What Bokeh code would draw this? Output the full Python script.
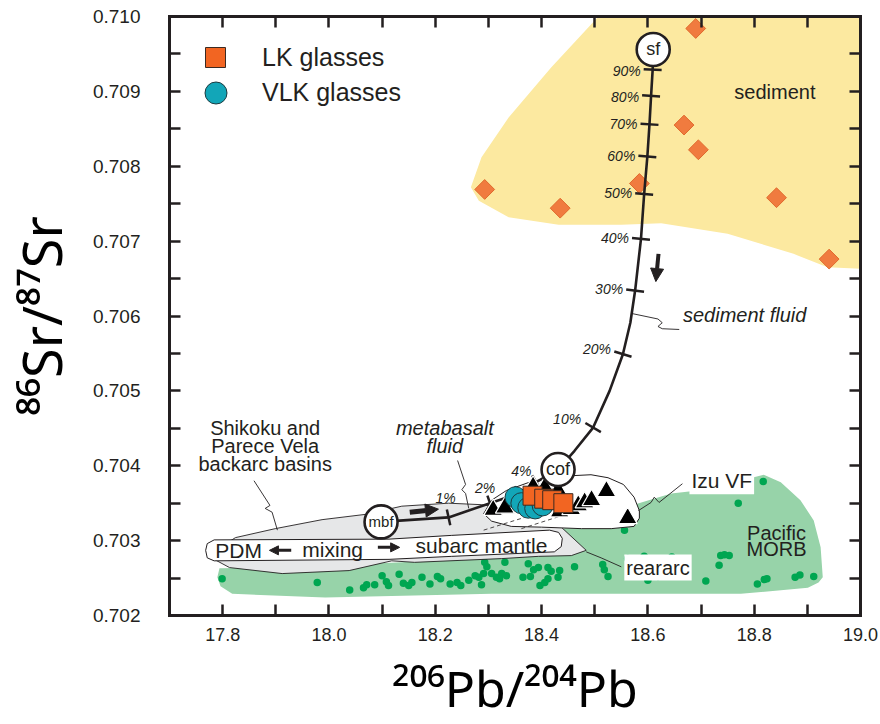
import numpy as np
from bokeh.plotting import figure
from bokeh.models import (FixedTicker, LinearAxis, Range1d, Label, Arrow, NormalHead,
                          Legend, LegendItem, NumeralTickFormatter, CustomJSTickFormatter)
from bokeh.core.properties import value
from bokeh.embed import file_html
from bokeh.resources import INLINE

# ---------------- axis ticks ----------------
x_major_ticks = [17.8, 18.0, 18.2, 18.4, 18.6, 18.8, 19.0]
x_minor_ticks = [17.9, 18.1, 18.3, 18.5, 18.7, 18.9]
y_major_ticks = [0.702, 0.703, 0.704, 0.705, 0.706, 0.707, 0.708, 0.709, 0.710]
y_minor_ticks = [0.7025, 0.7035, 0.7045, 0.7055, 0.7065, 0.7075, 0.7085, 0.7095]

# ---------------- fields (outlines) ----------------
sediment_field_x = [18.507, 18.418, 18.338, 18.287, 18.267, 18.282, 18.338, 18.432, 18.550,
                    18.625, 18.750, 18.874, 18.938, 19.0, 19.0]
sediment_field_y = [0.71000, 0.70932, 0.70865, 0.70812, 0.70772, 0.70754, 0.70732, 0.70722,
                    0.70722, 0.70724, 0.70710, 0.70683, 0.70665, 0.70663, 0.71000]

morb_field_x = [17.790, 17.794, 17.949, 18.137, 18.287, 18.400, 18.448, 18.550, 18.644, 18.694,
                18.762, 18.818, 18.850, 18.887, 18.912, 18.925, 18.929, 18.921, 18.901, 18.775,
                18.306, 17.993, 17.818, 17.796]
morb_field_y = [0.70251, 0.70263, 0.70265, 0.70271, 0.70279, 0.70304, 0.70318, 0.70343, 0.70363,
                0.70367, 0.70378, 0.70388, 0.70378, 0.70354, 0.70327, 0.70291, 0.70251, 0.70244,
                0.70237, 0.70229, 0.70229, 0.70224, 0.70229, 0.70239]

backarc_field_x = [17.771, 17.824, 17.899, 17.987, 18.068, 18.137, 18.225, 18.287, 18.362, 18.437,
                   18.484, 18.456, 18.394, 18.325, 18.161, 18.118, 18.038, 17.912, 17.813]
backarc_field_y = [0.70280, 0.70304, 0.70316, 0.70328, 0.70335, 0.70346, 0.70350, 0.70348, 0.70340,
                   0.70318, 0.70287, 0.70280, 0.70279, 0.70276, 0.70271, 0.70273, 0.70260, 0.70256,
                   0.70264]

mixing_field_x = [17.768, 17.771, 17.784, 18.113, 18.231, 18.415, 18.432, 18.439, 18.437, 18.424,
                  18.231, 18.113, 17.784, 17.771]
mixing_field_y = [0.70287, 0.70296, 0.70301, 0.70302, 0.70307, 0.70314, 0.70311, 0.70303, 0.70292,
                  0.70285, 0.70279, 0.70275, 0.70273, 0.70277]

izu_field_x = [18.291, 18.306, 18.334, 18.381, 18.437, 18.493, 18.525, 18.554, 18.574, 18.584,
               18.584, 18.574, 18.531, 18.475, 18.400, 18.343, 18.306]
izu_field_y = [0.70336, 0.70354, 0.70367, 0.70379, 0.70386, 0.70388, 0.70384, 0.70375, 0.70358,
               0.70340, 0.70330, 0.70319, 0.70316, 0.70316, 0.70318, 0.70319, 0.70326]

# hidden outline inside the Izu field (dashed)
hidden_x = [[18.291, 18.368], [18.362, 18.441]]
hidden_y = [[0.70314, 0.70331], [0.70316, 0.70334]]

# ---------------- samples ----------------
sediment_x = [18.293, 18.435, 18.584, 18.690, 18.668, 18.695, 18.842, 18.941]
sediment_y = [0.70769, 0.70744, 0.70777, 0.70984, 0.70855, 0.70822, 0.70758, 0.70676]

morb_x = [17.799, 17.978, 18.039, 18.065, 18.071, 18.086, 18.100, 18.108, 18.112, 18.132,
          18.140, 18.150, 18.156, 18.175, 18.190, 18.204, 18.210, 18.228, 18.241, 18.248,
          18.263, 18.275, 18.282, 18.293, 18.297, 18.287, 18.306, 18.315, 18.325, 18.321,
          18.334, 18.331, 18.365, 18.375, 18.385, 18.394, 18.397, 18.406, 18.412, 18.418,
          18.431, 18.434, 18.379, 18.412, 18.462, 18.515, 18.518, 18.525, 18.556, 18.562,
          18.575, 18.593, 18.600, 18.619, 18.625, 18.645, 18.709, 18.734, 18.737, 18.744,
          18.753, 18.770, 18.806, 18.819, 18.824, 18.817, 18.877, 18.886, 18.912, 18.291]
morb_y = [0.70249, 0.70244, 0.70234, 0.70237, 0.70241, 0.70241, 0.70253, 0.70245, 0.70240, 0.70255,
          0.70243, 0.70240, 0.70244, 0.70251, 0.70242, 0.70252, 0.70249, 0.70242, 0.70244, 0.70240,
          0.70247, 0.70253, 0.70251, 0.70271, 0.70265, 0.70241, 0.70256, 0.70251, 0.70256, 0.70249,
          0.70253, 0.70271, 0.70251, 0.70269, 0.70261, 0.70264, 0.70240, 0.70244, 0.70264, 0.70259,
          0.70251, 0.70260, 0.70252, 0.70249, 0.70265, 0.70268, 0.70261, 0.70252, 0.70314, 0.70276,
          0.70253, 0.70279, 0.70247, 0.70252, 0.70269, 0.70278, 0.70246, 0.70267, 0.70280, 0.70281,
          0.70280, 0.70350, 0.70242, 0.70248, 0.70249, 0.70379, 0.70251, 0.70254, 0.70252, 0.70256]

izu_x = [18.309, 18.331, 18.384, 18.406, 18.431, 18.434, 18.456, 18.469, 18.481, 18.494, 18.522, 18.562]
izu_y = [0.70341, 0.70344, 0.70372, 0.70371, 0.70367, 0.70339, 0.70342, 0.70347, 0.70351, 0.70354,
         0.70366, 0.70330]

vlk_x = [18.351, 18.362, 18.375, 18.388, 18.402]
vlk_y = [0.70358, 0.70350, 0.70344, 0.70343, 0.70347]

lk_x = [18.383, 18.405, 18.420, 18.441]
lk_y = [0.70360, 0.70356, 0.70354, 0.70350]

# ---------------- mixing models ----------------
sed_fluid_x = [18.610, 18.609, 18.606, 18.603, 18.599, 18.593, 18.587, 18.576, 18.567, 18.553,
               18.528, 18.497, 18.462, 18.431]
sed_fluid_y = [0.70956, 0.70929, 0.70894, 0.70856, 0.70813, 0.70763, 0.70703, 0.70634, 0.70591,
               0.70549, 0.70500, 0.70451, 0.70420, 0.70395]
sed_tick_x = [18.609, 18.606, 18.603, 18.599, 18.593, 18.587, 18.576, 18.553, 18.497]
sed_tick_y = [0.70929, 0.70894, 0.70856, 0.70813, 0.70763, 0.70703, 0.70634, 0.70549, 0.70451]
sed_tick_labels = ["90%", "80%", "70%", "60%", "50%", "40%", "30%", "20%", "10%"]

mb_fluid_x = [18.098, 18.161, 18.225, 18.303, 18.356, 18.390, 18.431]
mb_fluid_y = [0.70325, 0.70328, 0.70331, 0.70350, 0.70363, 0.70378, 0.70395]
mb_tick_x = [18.225, 18.303, 18.356, 18.390]
mb_tick_y = [0.70331, 0.70350, 0.70363, 0.70378]
mb_tick_labels = ["1%", "2%", "4%"]
mb_label_x = [18.225, 18.303, 18.390]
mb_label_y = [0.70331, 0.70350, 0.70378]

endmember_x = [18.610, 18.431, 18.098]
endmember_y = [0.70956, 0.70395, 0.70325]
endmember_labels = ["sf", "cof", "mbf"]

# ---------------- leader lines ----------------
leader_x = [[18.572, 18.619, 18.627, 18.619, 18.627, 18.659],
            [18.242, 18.257, 18.250, 18.257, 18.263],
            [17.859, 17.889, 17.880, 17.893, 17.903],
            [18.665, 18.621, 18.612, 18.606, 18.582],
            [18.484, 18.512, 18.550]]
leader_y = [[0.70603, 0.70596, 0.70591, 0.70586, 0.70583, 0.70582],
            [0.70407, 0.70375, 0.70368, 0.70363, 0.70343],
            [0.70380, 0.70347, 0.70343, 0.70338, 0.70314],
            [0.70376, 0.70351, 0.70358, 0.70351, 0.70340],
            [0.70285, 0.70277, 0.70265]]

# ---------------- figure ----------------
INK = "#231F20"
FONT = "Liberation Sans"
TITLE_FONT = "Noto Sans"
W, H = 880, 724
BL, BR, BT, BB = 167, 20, 16, 109
X0, X1 = 17.7, 19.0
Y0, Y1 = 0.702, 0.710

p = figure(width=W, height=H, x_range=Range1d(X0, X1), y_range=Range1d(Y0, Y1),
           output_backend="svg", toolbar_location=None,
           min_border_left=BL, min_border_right=BR, min_border_top=BT, min_border_bottom=BB,
           outline_line_color=None, background_fill_color="white", border_fill_color="white")
p.xgrid.visible = False
p.ygrid.visible = False

bottom_axis = p.below[0]
left_axis = p.left[0]
bottom_axis.ticker = FixedTicker(ticks=x_major_ticks, minor_ticks=x_minor_ticks)
left_axis.ticker = FixedTicker(ticks=y_major_ticks, minor_ticks=y_minor_ticks)
bottom_axis.formatter = NumeralTickFormatter(format="0.0")
left_axis.formatter = NumeralTickFormatter(format="0.000")
blank = CustomJSTickFormatter(code="return ''")
top_axis = LinearAxis(ticker=FixedTicker(ticks=x_major_ticks, minor_ticks=x_minor_ticks),
                      formatter=blank, major_label_text_font_size="1px", major_label_standoff=0)
right_axis = LinearAxis(ticker=FixedTicker(ticks=y_major_ticks, minor_ticks=y_minor_ticks),
                        formatter=blank, major_label_text_font_size="1px", major_label_standoff=0)
p.add_layout(top_axis, "above")
p.add_layout(right_axis, "right")
for ax in [bottom_axis, left_axis, top_axis, right_axis]:
    ax.axis_line_width = 3
    ax.axis_line_color = INK
    ax.axis_line_cap = "square"
    ax.major_tick_in = 11
    ax.major_tick_out = 0
    ax.minor_tick_in = 11
    ax.minor_tick_out = 0
    ax.major_tick_line_width = 2.5
    ax.minor_tick_line_width = 2.5
    ax.major_tick_line_color = INK
    ax.minor_tick_line_color = INK

left_axis.major_label_text_font = FONT
left_axis.major_label_text_font_size = "19px"
left_axis.major_label_text_color = INK
left_axis.major_label_standoff = 29
left_axis.axis_label = "⁸⁶Sr/⁸⁷Sr"
left_axis.axis_label_text_font = TITLE_FONT
left_axis.axis_label_text_font_size = "54px"
left_axis.axis_label_text_font_style = "normal"
left_axis.axis_label_text_color = "black"
left_axis.axis_label_standoff = 12

bottom_axis.major_label_text_font = FONT
bottom_axis.major_label_text_font_size = "18px"
bottom_axis.major_label_text_color = INK
bottom_axis.major_label_standoff = 12
bottom_axis.axis_label = "²⁰⁶Pb/²⁰⁴Pb"
bottom_axis.axis_label_text_font = TITLE_FONT
bottom_axis.axis_label_text_font_size = "50px"
bottom_axis.axis_label_text_font_style = "normal"
bottom_axis.axis_label_text_color = "black"
bottom_axis.axis_label_standoff = 10

# fields
p.patch(sediment_field_x, sediment_field_y, fill_color="#FCE9A0", line_color=None)
p.patch(morb_field_x, morb_field_y, fill_color="#97D3A9", line_color=None)
p.scatter(morb_x, morb_y, marker="circle", size=7.5, fill_color="#00A651", line_color=None)
p.patch(backarc_field_x, backarc_field_y, fill_color="#E6E7E8", line_color=INK, line_width=0.9)
p.patch(mixing_field_x, mixing_field_y, fill_color="white", line_color=INK, line_width=1)
p.patch(izu_field_x, izu_field_y, fill_color="white", line_color=INK, line_width=1)
p.multi_line(hidden_x, hidden_y, line_color=INK, line_width=0.8, line_dash="4 3")
p.multi_line(leader_x, leader_y, line_color=INK, line_width=0.9)

# sediment samples
p.scatter(sediment_x, sediment_y, marker="square", angle=np.pi / 4, size=14,
          fill_color="#F07B3F", line_color="#E0692C", line_width=1)


def txt(xs, ys, texts, size, style="normal", align="center", baseline="middle", font=FONT,
        xo=0, yo=0):
    p.text(x=xs, y=ys, text=texts, text_font=value(font), text_font_size=value(f"{size}px"),
           text_font_style=value(style), text_align=value(align), text_baseline=value(baseline),
           text_color=INK, x_offset=xo, y_offset=yo)


txt([18.839], [0.70899], ["sediment"], 20)
txt([18.666], [0.70601], ["sediment fluid"], 20, style="italic", align="left")
txt([18.218, 18.218], [0.70450, 0.70427], ["metabasalt", "fluid"], 20, style="italic")
txt([17.880, 17.880, 17.880], [0.70451, 0.70426, 0.70403],
    ["Shikoku and", "Parece Vela", "backarc basins"], 20)
txt([18.842, 18.842], [0.70310, 0.70289], ["Pacific", "MORB"], 20)
txt([17.830], [0.70287], ["PDM"], 21)
txt([18.007], [0.70288], ["mixing"], 21)
txt([18.287], [0.70293], ["subarc mantle"], 21)

# model curves
fw, fh = W - BL - BR, H - BT - BB
kx, ky = fw / (X1 - X0), fh / (Y1 - Y0)


def perp_angles(cx, cy, tx, ty):
    cx = np.asarray(cx)
    cy = np.asarray(cy)
    out = []
    for x, y in zip(tx, ty):
        i = int(np.argmin(((cx - x) * kx) ** 2 + ((cy - y) * ky) ** 2))
        j0, j1 = max(i - 1, 0), min(i + 1, len(cx) - 1)
        dx = (cx[j1] - cx[j0]) * kx
        dy = (cy[j1] - cy[j0]) * ky
        out.append(float(np.arctan2(dy, dx) + np.pi / 2))
    return out


p.line(sed_fluid_x, sed_fluid_y, line_color=INK, line_width=2.6)
p.line(mb_fluid_x, mb_fluid_y, line_color=INK, line_width=2.6)
p.scatter(sed_tick_x, sed_tick_y, marker="dash", size=18, line_width=2.5, line_color=INK,
          angle=perp_angles(sed_fluid_x, sed_fluid_y, sed_tick_x, sed_tick_y))
p.scatter(mb_tick_x, mb_tick_y, marker="dash", size=16, line_width=2.5, line_color=INK,
          angle=perp_angles(mb_fluid_x, mb_fluid_y, mb_tick_x, mb_tick_y))
txt(sed_tick_x, sed_tick_y, sed_tick_labels, 14, style="italic", align="right",
    xo=-12, yo=[1, 1, 0, -1, -1, -1, -2, -5, -9])
txt(mb_label_x, mb_label_y, mb_tick_labels, 14, style="italic", xo=[-3, -5, -15],
    yo=[-19, -15, -11])

# arrows
p.add_layout(Arrow(x_start=18.620, y_start=0.70683, x_end=18.615, y_end=0.70646,
                   line_width=4, line_color=INK,
                   end=NormalHead(size=13, fill_color=INK, line_color=INK, line_width=1)))
p.add_layout(Arrow(x_start=18.152, y_start=0.70338, x_end=18.206, y_end=0.70342,
                   line_width=5, line_color=INK,
                   end=NormalHead(size=13, fill_color=INK, line_color=INK, line_width=1)))
p.add_layout(Arrow(x_start=17.929, y_start=0.70287, x_end=17.888, y_end=0.70287,
                   line_width=3, line_color=INK,
                   end=NormalHead(size=9, fill_color=INK, line_color=INK, line_width=1)))
p.add_layout(Arrow(x_start=18.092, y_start=0.70291, x_end=18.133, y_end=0.70291,
                   line_width=3, line_color=INK,
                   end=NormalHead(size=9, fill_color=INK, line_color=INK, line_width=1)))

# Izu samples and glasses
p.scatter(izu_x, izu_y, marker="triangle", size=19, fill_color="black", line_color="white",
          line_width=1.2)
r_vlk = p.scatter(vlk_x, vlk_y, marker="circle", size=21, fill_color="#12A6B8",
                  line_color="#1d3b40", line_width=1)
r_lk = p.scatter(lk_x, lk_y, marker="square", size=19, fill_color="#F26522",
                 line_color="#3b2a22", line_width=1)

# end-members
p.scatter(endmember_x, endmember_y, marker="circle", size=33, fill_color="white",
          line_color=INK, line_width=2.6)
txt(endmember_x[:2], endmember_y[:2], endmember_labels[:2], 18)
txt(endmember_x[2:], endmember_y[2:], endmember_labels[2:], 15)

# boxed labels
p.add_layout(Label(x=18.739, y=0.70380, text="Izu VF", text_font=FONT, text_font_size="21px",
                   text_align="center", text_baseline="middle", text_color=INK,
                   background_fill_color="white", padding=2))
p.add_layout(Label(x=18.619, y=0.70264, text="reararc", text_font=FONT, text_font_size="20px",
                   text_align="center", text_baseline="middle", text_color=INK,
                   background_fill_color="white", padding=2))

# legend (one entry per legend box so that each key sits where the reference shows it)
leg_common = dict(padding=0, margin=0, border_line_alpha=0, background_fill_alpha=0,
                  label_text_font=FONT, label_text_font_size="25px", label_text_color=INK)
p.add_layout(Legend(items=[LegendItem(label="LK glasses", renderers=[r_lk])],
                    location=(21, 533), glyph_width=50, glyph_height=50, label_standoff=22,
                    **leg_common))
p.add_layout(Legend(items=[LegendItem(label="VLK glasses", renderers=[r_vlk])],
                    location=(19, 495), glyph_width=55, glyph_height=55, label_standoff=19,
                    **leg_common))

open("out.html", "w").write(file_html(p, INLINE))
